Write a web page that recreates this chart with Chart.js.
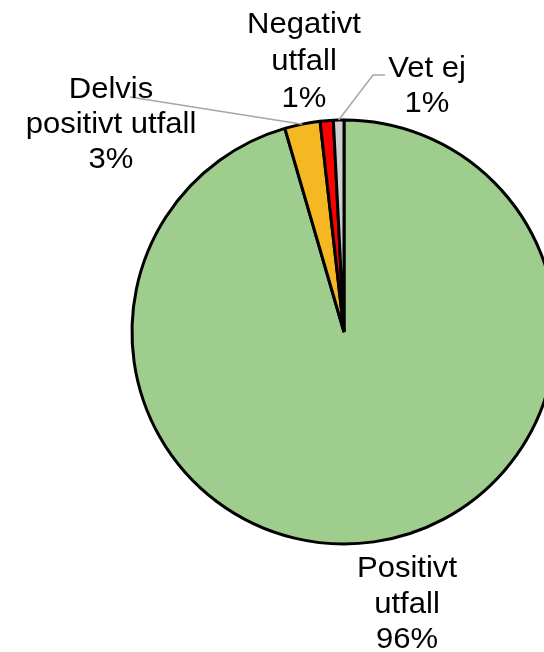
<!DOCTYPE html>
<html>
<head>
<meta charset="utf-8">
<script src="https://cdn.jsdelivr.net/npm/chart.js@4"></script>
<style>
  html, body { margin: 0; padding: 0; background: #fff; overflow: hidden; }
  #wrap { width: 600px; height: 652px; }
</style>
</head>
<body>
<div id="wrap"><canvas id="pie" width="600" height="652"></canvas></div>
<script>
// data
const categories = ['Positivt utfall', 'Delvis positivt utfall', 'Negativt utfall', 'Vet ej'];
const values = [95.5, 2.7, 1.0, 0.8];
const colors = ['#9fcd8e', '#f5b823', '#ff0000', '#d0cece'];

// label text lines per slice (last line is the percent)
const labelLines = [
  ['Positivt', 'utfall'],
  ['Delvis', 'positivt utfall'],
  ['Negativt', 'utfall'],
  ['Vet ej']
];
// label placement: center x, first baseline, line step
const labelPos = [
  { x: 407, y: 577, step: 35.5 },
  { x: 111, y: 98, step: 35 },
  { x: 304, y: 33, step: 37 },
  { x: 427, y: 77, step: 35 }
];
// leader lines: start point for slices that have one
const leaders = {
  1: [[130, 97]],
  3: [[385, 75], [373, 75]]
};

const labelPlugin = {
  id: 'pieLabels',
  afterDraw(chart) {
    const ctx = chart.ctx;
    const arcs = chart.getDatasetMeta(0).data;
    ctx.save();
    // leader lines
    ctx.strokeStyle = '#a6a6a6';
    ctx.lineWidth = 1.5;
    Object.keys(leaders).forEach(k => {
      const a = arcs[k];
      const mid = (a.startAngle + a.endAngle) / 2;
      const ex = a.x + Math.cos(mid) * a.outerRadius;
      const ey = a.y + Math.sin(mid) * a.outerRadius;
      ctx.beginPath();
      leaders[k].forEach((p, i) => i === 0 ? ctx.moveTo(p[0], p[1]) : ctx.lineTo(p[0], p[1]));
      ctx.lineTo(ex, ey);
      ctx.stroke();
    });
    // texts
    ctx.fillStyle = '#000';
    ctx.font = '29px "Liberation Sans", Arial, sans-serif';
    ctx.textAlign = 'center';
    ctx.textBaseline = 'alphabetic';
    values.forEach((v, i) => {
      const lines = labelLines[i].concat([Math.round(v) + '%']);
      const p = labelPos[i];
      lines.forEach((t, j) => {
        ctx.save();
        ctx.translate(p.x, p.y + j * p.step);
        ctx.scale(1.07, 1);
        ctx.fillText(t, 0, 0);
        ctx.restore();
      });
    });
    ctx.restore();
  }
};

new Chart(document.getElementById('pie'), {
  type: 'pie',
  data: {
    labels: categories,
    datasets: [{
      data: values,
      backgroundColor: colors,
      borderColor: '#000',
      borderWidth: 3
    }]
  },
  options: {
    responsive: false,
    animation: false,
    radius: 212,
    layout: { padding: { left: 100, right: 12, top: 100, bottom: 88 } },
    plugins: {
      legend: { display: false },
      tooltip: { enabled: false }
    }
  },
  plugins: [labelPlugin]
});
</script>
</body>
</html>
